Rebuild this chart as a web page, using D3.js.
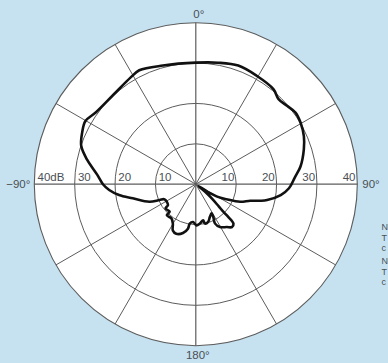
<!DOCTYPE html>
<html><head><meta charset="utf-8">
<script src="https://cdn.jsdelivr.net/npm/d3@7"></script>
<style>html,body{margin:0;padding:0;background:#c6e2f0;overflow:hidden}svg{display:block}</style>
</head><body><svg id="c" width="388" height="363"></svg>
<script>
// polar response trace, clockwise from 0° (degrees, dB)
const angleDeg = [0, 10.4, 19.7, 29.3, 39.2, 44.2, 49.3, 54.3, 59.5, 66, 72.2, 80.4, 86, 92.5, 97.3, 102.5, 104.4, 106.9, 111.6, 116, 119.5, 122.5, 126, 129, 131.7, 134, 135, 135.2, 136.3, 139.9, 144.1, 150.5, 154, 151.9, 151.6, 156.6, 161.8, 167, 168.4, 174.1, 179, 184.1, 188.7, 190, 194.7, 201.5, 206.4, 210.2, 215.6, 223.1, 223.5, 231.3, 233.2, 244.2, 246.4, 249.3, 257.4, 262, 266.2, 270, 275.4, 282.7, 288.4, 294.3, 299.8, 305.6, 316.7, 328.8, 333.6, 344.5];
const levelDb  = [30.1, 30.6, 31.2, 30.8, 30.4, 29.4, 29.8, 30.4, 30.1, 29.3, 28.1, 26.3, 24.6, 23.1, 21.2, 18.1, 16.5, 14.1, 11.8, 8.5, 6.5, 3.5, 0.8, 2.9, 5.3, 7.9, 9.7, 11.4, 13.5, 13.9, 13.1, 12.2, 10.8, 9.2, 8.2, 8.8, 9.8, 10.0, 9.1, 9.8, 10.2, 9.4, 9.9, 11.2, 12.5, 13.2, 12.8, 11.3, 10.4, 10.5, 9.4, 9.6, 8.6, 8.6, 9.8, 12.3, 16.0, 19.2, 21.5, 23.0, 24.5, 27.6, 29.9, 30.9, 31.5, 30.5, 30.1, 31.0, 31.5, 30.5];
const ringLevels = [10, 20, 30, 40];
const ringLabelsLeft = ["10", "20", "30", "40dB"];
const ringLabelsRight = ["10", "20", "30", "40"];
const spokeAngles = [0, 30, 60, 90, 120, 150];
const axisAngleLabels = ["0°", "90°", "180°", "−90°"];
const sideLetters = ["N", "T", "c", "N", "T", "c"];

const svg = d3.select("#c");
const cx = 195.8, cy = 184.2, R = 161.5;
const r = d3.scaleLinear().domain([0, 40]).range([0, R]);
const rad = d => d * Math.PI / 180;
const g = svg.append("g").attr("transform", `translate(${cx},${cy})`);
const gridColor = "#5c5c5c";

g.append("circle").attr("r", r(40)).attr("fill", "#fff").attr("stroke", gridColor).attr("stroke-width", 1.1);
g.selectAll("circle.ring").data(ringLevels.slice(0, 3)).join("circle").attr("class", "ring")
  .attr("r", d => r(d)).attr("fill", "none").attr("stroke", gridColor).attr("stroke-width", 1);
g.selectAll("line.spoke").data(spokeAngles).join("line").attr("class", "spoke")
  .attr("x1", d => r(40) * Math.sin(rad(d))).attr("y1", d => -r(40) * Math.cos(rad(d)))
  .attr("x2", d => -r(40) * Math.sin(rad(d))).attr("y2", d => r(40) * Math.cos(rad(d)))
  .attr("stroke", gridColor).attr("stroke-width", d => d % 90 === 0 ? 1.2 : 1);

const font = "'Liberation Sans', Arial, Helvetica, sans-serif";
const txtCol = "#4a4f55";
g.selectAll("text.rl").data(ringLevels).join("text").attr("class", "rl")
  .attr("x", (d, i) => -r(d) + 3.2).attr("y", -2.8)
  .attr("font-family", font).attr("font-size", 11.5).attr("fill", txtCol)
  .text((d, i) => ringLabelsLeft[i]);
g.selectAll("text.rr").data(ringLevels).join("text").attr("class", "rr")
  .attr("x", d => r(d) - 1.8).attr("y", -2.8).attr("text-anchor", "end")
  .attr("font-family", font).attr("font-size", 11.5).attr("fill", txtCol)
  .text((d, i) => ringLabelsRight[i]);

const lab = svg.append("g").attr("font-family", font).attr("font-size", 11.5).attr("fill", txtCol);
lab.append("text").attr("x", cx + 3).attr("y", cy - R - 5).attr("text-anchor", "middle").text(axisAngleLabels[0]);
lab.append("text").attr("x", cx + R + 5).attr("y", cy + 4).attr("text-anchor", "start").text(axisAngleLabels[1]);
lab.append("text").attr("x", cx + 2).attr("y", cy + R + 13.5).attr("text-anchor", "middle").text(axisAngleLabels[2]);
lab.append("text").attr("x", cx - R - 4).attr("y", cy + 4).attr("text-anchor", "end").text(axisAngleLabels[3]);

const sideY = [230, 240.5, 251, 264, 274.5, 285];
svg.append("g").attr("font-family", font).attr("font-size", 9).attr("fill", txtCol)
  .selectAll("text").data(sideLetters).join("text")
  .attr("x", 381.5).attr("y", (d, i) => sideY[i]).text(d => d);

const pts = angleDeg.map((a, i) => [rad(a), r(levelDb[i])]);
const line = d3.lineRadial().angle(d => d[0]).radius(d => d[1]).curve(d3.curveCatmullRomClosed.alpha(0.5));
g.append("path").attr("d", line(pts)).attr("fill", "none").attr("stroke", "#111")
  .attr("stroke-width", 2.6).attr("stroke-linejoin", "round");
</script></body></html>
